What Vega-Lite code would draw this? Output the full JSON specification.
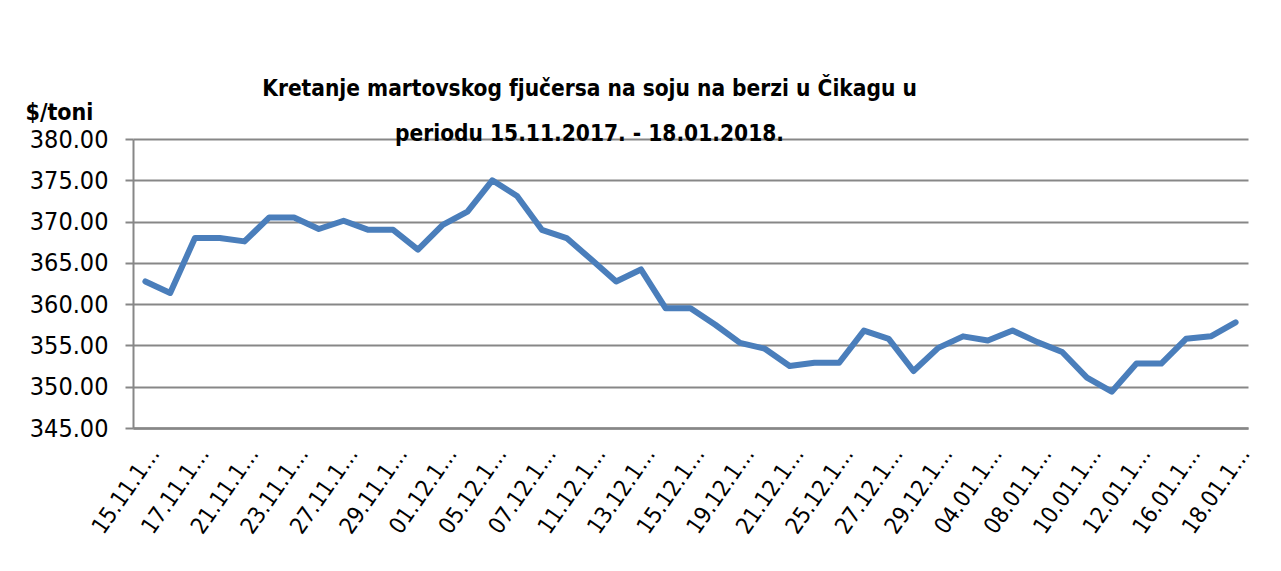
{
  "$schema": "https://vega.github.io/schema/vega-lite/v6.json",
  "width": 1115,
  "height": 289,
  "autosize": "none",
  "padding": {"left": 133, "top": 139, "right": 33, "bottom": 143},
  "background": "white",
  "title": {
    "text": ["Kretanje martovskog fjučersa na soju na berzi u Čikagu u", "periodu 15.11.2017. - 18.01.2018."],
    "font": "DejaVu Sans Condensed, sans-serif",
    "fontSize": 22.5,
    "fontWeight": "bold",
    "lineHeight": 45,
    "anchor": "middle",
    "dx": -101,
    "offset": -62,
    "baseline": "alphabetic",
    "color": "black"
  },
  "data": {
    "values": [
      {"datum": "15.11.17.", "cijena": 362.75},
      {"datum": "16.11.17.", "cijena": 361.35},
      {"datum": "17.11.17.", "cijena": 368.0},
      {"datum": "20.11.17.", "cijena": 368.0},
      {"datum": "21.11.17.", "cijena": 367.6},
      {"datum": "22.11.17.", "cijena": 370.5},
      {"datum": "23.11.17.", "cijena": 370.5},
      {"datum": "24.11.17.", "cijena": 369.1},
      {"datum": "27.11.17.", "cijena": 370.1},
      {"datum": "28.11.17.", "cijena": 369.0},
      {"datum": "29.11.17.", "cijena": 369.0},
      {"datum": "30.11.17.", "cijena": 366.6},
      {"datum": "01.12.17.", "cijena": 369.6},
      {"datum": "04.12.17.", "cijena": 371.2},
      {"datum": "05.12.17.", "cijena": 375.0},
      {"datum": "06.12.17.", "cijena": 373.1},
      {"datum": "07.12.17.", "cijena": 369.0},
      {"datum": "08.12.17.", "cijena": 368.0},
      {"datum": "11.12.17.", "cijena": 365.4},
      {"datum": "12.12.17.", "cijena": 362.75},
      {"datum": "13.12.17.", "cijena": 364.2},
      {"datum": "14.12.17.", "cijena": 359.5},
      {"datum": "15.12.17.", "cijena": 359.5},
      {"datum": "18.12.17.", "cijena": 357.5},
      {"datum": "19.12.17.", "cijena": 355.3},
      {"datum": "20.12.17.", "cijena": 354.6},
      {"datum": "21.12.17.", "cijena": 352.5},
      {"datum": "22.12.17.", "cijena": 352.9},
      {"datum": "25.12.17.", "cijena": 352.9},
      {"datum": "26.12.17.", "cijena": 356.8},
      {"datum": "27.12.17.", "cijena": 355.8},
      {"datum": "28.12.17.", "cijena": 351.9},
      {"datum": "29.12.17.", "cijena": 354.7},
      {"datum": "03.01.18.", "cijena": 356.1},
      {"datum": "04.01.18.", "cijena": 355.6},
      {"datum": "05.01.18.", "cijena": 356.8},
      {"datum": "08.01.18.", "cijena": 355.4},
      {"datum": "09.01.18.", "cijena": 354.2},
      {"datum": "10.01.18.", "cijena": 351.1},
      {"datum": "11.01.18.", "cijena": 349.4},
      {"datum": "12.01.18.", "cijena": 352.8},
      {"datum": "15.01.18.", "cijena": 352.8},
      {"datum": "16.01.18.", "cijena": 355.8},
      {"datum": "17.01.18.", "cijena": 356.1},
      {"datum": "18.01.18.", "cijena": 357.8}
    ]
  },
  "mark": {"type": "line", "color": "#4a7ebb", "strokeWidth": 6, "strokeJoin": "round", "strokeCap": "round"},
  "encoding": {
    "x": {
      "field": "datum",
      "type": "ordinal",
      "sort": null,
      "scale": {"type": "point", "padding": 0.5},
      "axis": {
        "title": null,
        "values": ["15.11.17.", "17.11.17.", "21.11.17.", "23.11.17.", "27.11.17.", "29.11.17.", "01.12.17.", "05.12.17.", "07.12.17.", "11.12.17.", "13.12.17.", "15.12.17.", "19.12.17.", "21.12.17.", "25.12.17.", "27.12.17.", "29.12.17.", "04.01.18.", "08.01.18.", "10.01.18.", "12.01.18.", "16.01.18.", "18.01.18."],
        "labelExpr": "slice(datum.label, 0, 7) + '…'",
        "labelAngle": -55,
        "labelAlign": "right",
        "labelBaseline": "top",
        "labelPadding": 15,
        "labelFont": "DejaVu Sans Condensed, sans-serif",
        "labelFontSize": 23,
        "labelColor": "black",
        "labelOverlap": false,
        "ticks": false,
        "grid": false,
        "domainColor": "#878787",
        "domainWidth": 2.5
      }
    },
    "y": {
      "field": "cijena",
      "type": "quantitative",
      "scale": {"domain": [345, 380], "zero": false, "nice": false},
      "axis": {
        "title": "$/toni",
        "titleAngle": 0,
        "titleAlign": "left",
        "titleBaseline": "alphabetic",
        "titleX": -108,
        "titleY": -20,
        "titleFont": "DejaVu Sans Condensed, sans-serif",
        "titleFontSize": 23,
        "titleFontWeight": "bold",
        "titleColor": "black",
        "values": [345, 350, 355, 360, 365, 370, 375, 380],
        "format": ".2f",
        "labelFont": "DejaVu Sans Condensed, sans-serif",
        "labelFontSize": 25,
        "labelColor": "black",
        "labelPadding": 17,
        "labelOverlap": false,
        "tickSize": 8,
        "tickColor": "#878787",
        "tickWidth": 2,
        "domainColor": "#878787",
        "domainWidth": 2,
        "gridColor": "#878787",
        "gridWidth": 2,
        "gridOpacity": 1
      }
    }
  },
  "config": {
    "view": {"stroke": null}
  }
}
